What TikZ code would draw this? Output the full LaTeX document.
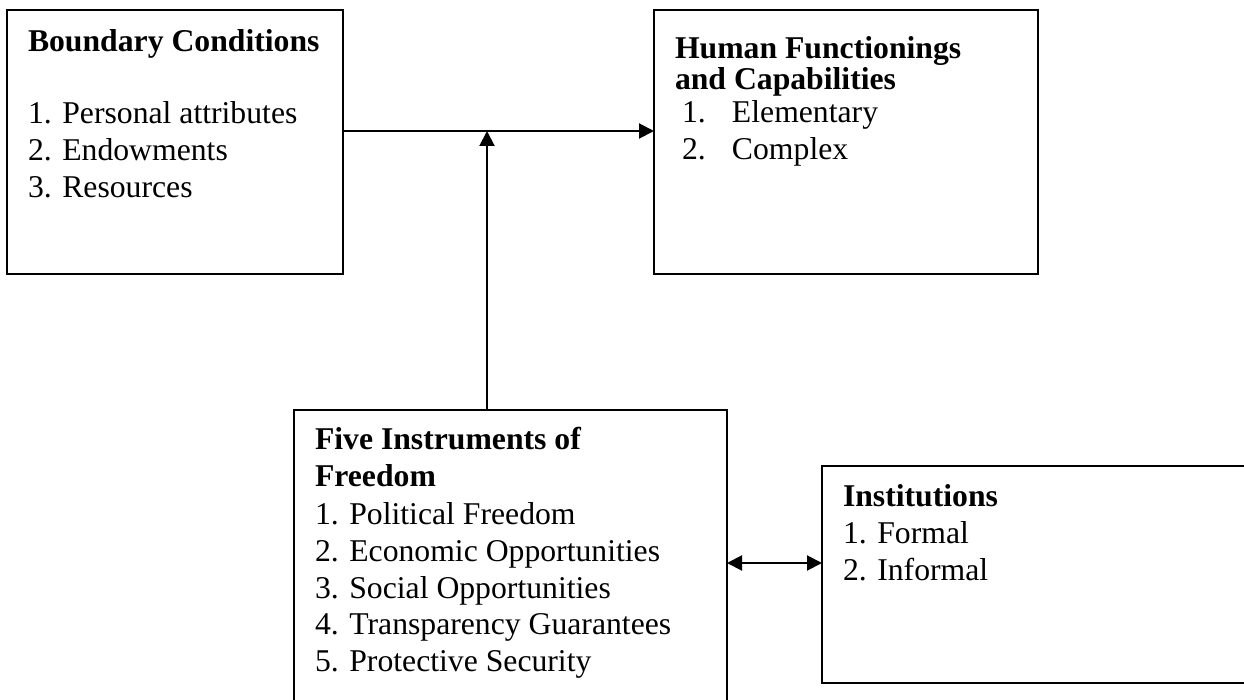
\documentclass[tikz,border=0pt]{standalone}
\usepackage{fontspec}
\setmainfont{Liberation Serif}
\usetikzlibrary{arrows.meta}
\tikzset{
  boxnode/.style={draw=black, line width=1pt, inner sep=0pt, outer sep=0pt, anchor=north west, fill=none},
  txt/.style={anchor=base west, inner sep=0pt, outer sep=0pt, font=\fontsize{15.85}{18.5}\selectfont},
  ttl/.style={txt, font=\fontsize{15.85}{18.5}\selectfont\bfseries},
  conn/.style={line width=1pt, -{Triangle[length=7.5pt,width=7.5pt]}},
  dconn/.style={line width=1pt, {Triangle[length=7.5pt,width=7.5pt]}-{Triangle[length=7.5pt,width=7.5pt]}}
}
\begin{document}
\begin{tikzpicture}[x=0.5pt,y=-0.5pt]
\useasboundingbox (0,0) rectangle (1244,700);
\clip (0,0) rectangle (1244,700);
\fill[white] (0,0) rectangle (1244,700);
% boxes
\node[boxnode, minimum width=168pt, minimum height=132pt] (A) at (7,10) {};
\node[boxnode, minimum width=192pt, minimum height=132pt] (B) at (654,10) {};
\node[boxnode, minimum width=216.5pt, minimum height=165pt] (C) at (294,410) {};
\node[boxnode, minimum width=225pt, minimum height=108.5pt] (D) at (822,466) {};
% texts box A
\node[ttl] (a0) at (28,52) {Boundary Conditions};
\node[txt] (a1) at (28,124) {1. Personal attributes};
\node[txt] (a2) at (28,161) {2. Endowments};
\node[txt] (a3) at (28,198) {3. Resources};
% texts box B
\node[ttl] (b0) at (675,59) {Human Functionings};
\node[ttl] (b1) at (675,90) {and Capabilities};
\node[txt] (b2) at (682,123) {\makebox[25pt][l]{1.}Elementary};
\node[txt] (b3) at (682,160) {\makebox[25pt][l]{2.}Complex};
% texts box C
\node[ttl] (c0) at (315,450) {Five Instruments of};
\node[ttl] (c1) at (315,487) {Freedom};
\node[txt] (c2) at (315,524) {1. Political Freedom};
\node[txt] (c3) at (315,561) {2. Economic Opportunities};
\node[txt] (c4) at (315,598) {3. Social Opportunities};
\node[txt] (c5) at (315,634) {4. Transparency Guarantees};
\node[txt] (c6) at (315,671) {5. Protective Security};
% texts box D
\node[ttl] (d0) at (843,507) {Institutions};
\node[txt] (d1) at (843,544) {1. Formal};
\node[txt] (d2) at (843,581) {2. Informal};
% connectors
\coordinate (j) at (487,131);
\coordinate (k) at (775,563);
\draw[conn] (A.east |- j) -- (B.west |- j);
\draw[conn] (C.north -| j) -- (j);
\draw[dconn] (C.east |- k) -- (D.west |- k);
\end{tikzpicture}
\end{document}
